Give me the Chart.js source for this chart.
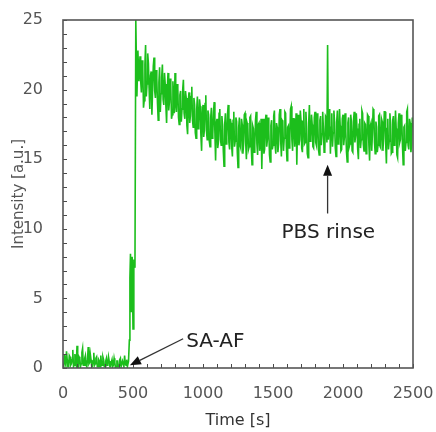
<!DOCTYPE html>
<html>
<head>
<meta charset="utf-8">
<script src="https://cdn.jsdelivr.net/npm/chart.js@4.4.1/dist/chart.umd.min.js"></script>
<style>
  html, body { margin: 0; padding: 0; background: #fff; }
  #chart { display: block; }
</style>
</head>
<body>
<canvas id="chart" width="436" height="432"></canvas>
<script>
const times = [
  0, 5, 10, 15, 20, 25, 30, 35, 40, 45,
  50, 55, 60, 65, 70, 75, 80, 85, 90, 95,
  100, 105, 110, 115, 120, 125, 130, 135, 140, 145,
  150, 155, 160, 165, 170, 175, 180, 185, 190, 195,
  200, 205, 210, 215, 220, 225, 230, 235, 240, 245,
  250, 255, 260, 265, 270, 275, 280, 285, 290, 295,
  300, 305, 310, 315, 320, 325, 330, 335, 340, 345,
  350, 355, 360, 365, 370, 375, 380, 385, 390, 395,
  400, 405, 410, 415, 420, 425, 430, 435, 440, 445,
  450, 455, 460,
  468, 474, 478, 482, 488, 494, 500, 506, 514, 520, 528, 535, 542,
  550, 555, 560, 565, 570, 575, 580, 585, 590, 595,
  600, 605, 610, 615, 620, 625, 630, 635, 640, 645,
  650, 655, 660, 665, 670, 675, 680, 685, 690, 695,
  700, 705, 710, 715, 720, 725, 730, 735, 740, 745,
  750, 755, 760, 765, 770, 775, 780, 785, 790, 795,
  800, 805, 810, 815, 820, 825, 830, 835, 840, 845,
  850, 855, 860, 865, 870, 875, 880, 885, 890, 895,
  900, 905, 910, 915, 920, 925, 930, 935, 940, 945,
  950, 955, 960, 965, 970, 975, 980, 985, 990, 995,
  1000, 1005, 1010, 1015, 1020, 1025, 1030, 1035, 1040, 1045,
  1050, 1055, 1060, 1065, 1070, 1075, 1080, 1085, 1090, 1095,
  1100, 1105, 1110, 1115, 1120, 1125, 1130, 1135, 1140, 1145,
  1150, 1155, 1160, 1165, 1170, 1175, 1180, 1185, 1190, 1195,
  1200, 1205, 1210, 1215, 1220, 1225, 1230, 1235, 1240, 1245,
  1250, 1255, 1260, 1265, 1270, 1275, 1280, 1285, 1290, 1295,
  1300, 1305, 1310, 1315, 1320, 1325, 1330, 1335, 1340, 1345,
  1350, 1355, 1360, 1365, 1370, 1375, 1380, 1385, 1390, 1395,
  1400, 1405, 1410, 1415, 1420, 1425, 1430, 1435, 1440, 1445,
  1450, 1455, 1460, 1465, 1470, 1475, 1480, 1485, 1490, 1495,
  1500, 1505, 1510, 1515, 1520, 1525, 1530, 1535, 1540, 1545,
  1550, 1555, 1560, 1565, 1570, 1575, 1580, 1585, 1590, 1595,
  1600, 1605, 1610, 1615, 1620, 1625, 1630, 1635, 1640, 1645,
  1650, 1655, 1660, 1665, 1670, 1675, 1680, 1685, 1690, 1695,
  1700, 1705, 1710, 1715, 1720, 1725, 1730, 1735, 1740, 1745,
  1750, 1755, 1760, 1765, 1770, 1775, 1780, 1785, 1790, 1795,
  1800, 1805, 1810, 1815, 1820, 1825, 1830, 1835, 1840, 1845,
  1850, 1855, 1860, 1865, 1870, 1875, 1880, 1885, 1890, 1895,
  1900, 1905, 1910, 1915, 1920, 1925, 1930, 1935, 1940, 1945,
  1950, 1955, 1960, 1965, 1970, 1975, 1980, 1985, 1990, 1995,
  2000, 2005, 2010, 2015, 2020, 2025, 2030, 2035, 2040, 2045,
  2050, 2055, 2060, 2065, 2070, 2075, 2080, 2085, 2090, 2095,
  2100, 2105, 2110, 2115, 2120, 2125, 2130, 2135, 2140, 2145,
  2150, 2155, 2160, 2165, 2170, 2175, 2180, 2185, 2190, 2195,
  2200, 2205, 2210, 2215, 2220, 2225, 2230, 2235, 2240, 2245,
  2250, 2255, 2260, 2265, 2270, 2275, 2280, 2285, 2290, 2295,
  2300, 2305, 2310, 2315, 2320, 2325, 2330, 2335, 2340, 2345,
  2350, 2355, 2360, 2365, 2370, 2375, 2380, 2385, 2390, 2395,
  2400, 2405, 2410, 2415, 2420, 2425, 2430, 2435, 2440, 2445,
  2450, 2455, 2460, 2465, 2470, 2475, 2480, 2485, 2490, 2495,
  2500
];

const intensity = [
  0.3, 0.0, 1.0, 0.4, 0.2, 1.2, 0.6, 0.1, 0.1, 0.9,
  0.8, 0.2, 0.3, 0.6, 1.3, 0.1, 0.2, 1.0, 0.5, 0.2,
  1.6, 0.3, 0.1, 0.8, 0.7, 0.1, 0.3, 1.1, 1.4, 0.2,
  0.2, 0.7, 0.9, 0.2, 0.1, 0.6, 1.5, 0.3, 0.4, 1.0,
  0.6, 0.1, 0.1, 0.5, 1.1, 0.2, 0.3, 0.7, 0.8, 0.1,
  0.1, 0.6, 0.5, 0.1, 0.9, 0.3, 0.2, 0.8, 0.6, 0.1,
  0.1, 0.5, 0.7, 0.2, 0.3, 0.8, 0.5, 0.1, 0.1, 0.4,
  0.6, 0.1, 0.2, 0.7, 0.4, 0.0, 0.1, 0.5, 0.5, 0.1,
  0.2, 0.6, 0.7, 0.1, 0.1, 0.5, 0.3, 0.1, 0.9, 0.3,
  0.2, 0.6, 0.1,
  0.5, 2.0, 6.5, 8.2, 4.0, 8.0, 2.8, 7.8, 7.2, 25.0, 19.5, 22.8, 20.6,
  22.4, 20.6, 19.8, 22.1, 21.5, 18.7, 19.2, 21.8, 23.2, 19.5,
  20.4, 22.6, 21.9, 20.1, 18.6, 21.0, 21.3, 18.2, 20.0, 21.7,
  22.3, 19.9, 19.4, 21.4, 20.8, 19.0, 17.8, 20.5, 21.6, 18.4,
  19.7, 20.9, 21.8, 19.3, 18.9, 21.2, 20.4, 18.8, 17.6, 20.0,
  21.2, 18.5, 19.1, 20.8, 20.3, 17.9, 18.2, 20.6, 19.6, 18.3,
  21.2, 19.0, 18.4, 20.4, 20.1, 18.0, 17.5, 19.6, 19.9, 17.7,
  18.6, 20.0, 20.7, 18.3, 17.9, 19.9, 19.4, 17.4, 16.8, 19.2,
  19.8, 17.6, 18.1, 19.5, 20.2, 17.8, 17.3, 19.4, 18.9, 16.9,
  16.5, 18.6, 19.5, 17.2, 17.6, 19.3, 18.8, 16.7, 15.6, 18.1,
  18.9, 16.6, 17.1, 19.0, 19.6, 17.0, 16.4, 18.5, 18.2, 16.3,
  15.9, 18.0, 18.7, 16.5, 16.8, 18.4, 19.1, 16.9, 14.9, 17.6,
  17.9, 15.8, 16.2, 18.3, 18.6, 16.4, 16.0, 18.1, 17.4, 15.6,
  14.5, 17.5, 18.3, 16.1, 16.6, 18.2, 18.9, 16.2, 15.7, 17.9,
  17.6, 15.9, 15.2, 17.8, 18.4, 15.9, 16.3, 18.0, 17.7, 15.5,
  14.4, 17.3, 18.0, 16.0, 15.8, 17.9, 17.5, 15.4, 16.1, 18.2,
  18.3, 16.2, 15.0, 17.6, 17.4, 15.7, 15.9, 18.0, 18.1, 15.8,
  14.6, 17.4, 17.2, 15.5, 16.0, 17.8, 18.4, 16.1, 15.3, 17.5,
  17.6, 15.6, 16.2, 17.9, 14.3, 16.8, 17.9, 15.4, 15.7, 17.7,
  18.2, 15.9, 16.4, 18.0, 17.1, 15.3, 14.8, 17.4, 17.8, 15.7,
  16.0, 18.1, 18.5, 16.0, 15.4, 17.6, 17.3, 15.5, 16.1, 18.2,
  18.6, 16.3, 15.2, 17.8, 17.7, 15.6, 16.5, 18.4, 18.3, 16.0,
  14.9, 17.3, 17.4, 15.8, 16.3, 18.6, 18.8, 16.4, 15.6, 17.9,
  17.9, 15.9, 16.7, 18.3, 14.6, 17.2, 18.2, 16.0, 16.4, 18.5,
  17.8, 15.8, 15.5, 17.7, 18.6, 16.1, 16.2, 18.4, 17.3, 15.4,
  15.1, 17.6, 18.9, 16.3, 16.6, 18.2, 17.5, 15.9, 15.8, 18.0,
  18.4, 16.2, 16.0, 18.3, 17.7, 15.7, 15.3, 17.8, 18.1, 16.0,
  16.8, 18.4, 17.2, 15.5, 15.6, 18.1, 18.0, 16.2, 23.2, 16.4,
  17.5, 18.6, 15.4, 17.3, 18.3, 15.9, 16.9, 18.5, 17.6, 15.8,
  15.2, 17.7, 18.5, 16.1, 16.3, 18.6, 17.4, 15.6, 15.7, 17.9,
  18.2, 16.0, 16.6, 18.3, 17.0, 15.5, 14.8, 17.6, 18.0, 15.9,
  16.1, 18.2, 17.7, 15.6, 15.5, 17.8, 18.4, 16.2, 16.7, 18.3,
  17.2, 15.7, 15.0, 17.5, 17.9, 15.8, 16.4, 18.5, 18.3, 16.1,
  15.6, 17.6, 17.5, 15.4, 16.2, 18.2, 18.1, 16.0, 14.9, 17.4,
  17.6, 15.6, 16.8, 18.6, 18.5, 16.2, 15.4, 17.7, 17.3, 15.5,
  16.0, 18.1, 18.2, 15.9, 15.8, 17.9, 17.7, 15.6, 16.5, 18.4,
  18.4, 16.1, 14.7, 17.2, 17.9, 15.7, 16.3, 18.3, 17.5, 15.4,
  15.5, 17.8, 18.1, 16.0, 16.6, 18.5, 17.2, 15.3, 15.1, 17.6,
  18.3, 16.2, 16.4, 18.2, 17.8, 15.9, 14.6, 17.3, 17.4, 15.6,
  16.2, 18.4, 18.6, 16.0, 15.7, 17.9, 17.6, 15.5, 16.0, 18.0,
  17.3
];

// Labelled tick values on each axis
const xLabelTicks = [0, 500, 1000, 1500, 2000, 2500];
const yLabelTicks = [0, 5, 10, 15, 20, 25];

// Annotations: text plus arrow tail/tip in data coordinates
const annotations = [
  { text: 'SA-AF', textAt: [880, 1.85], align: 'left', tail: [858, 2.1], tip: [478, 0.2] },
  { text: 'PBS rinse', textAt: [1895, 9.7], align: 'center', tail: [1890, 11.1], tip: [1890, 14.6] },
];

const FONT = "'DejaVu Sans', sans-serif";
const LINE_GREEN = 'rgb(28, 190, 28)';

// Frame box plus small inward tick marks along the left and bottom edges
const framePlugin = {
  id: 'frame',
  afterDatasetsDraw(chart) {
    const { ctx, chartArea: a, scales } = chart;
    ctx.save();
    ctx.strokeStyle = '#4a4a4a';
    ctx.lineWidth = 1;
    ctx.beginPath();
    scales.y.ticks.forEach((t) => {
      const py = Math.round(scales.y.getPixelForValue(t.value)) + 0.5;
      ctx.moveTo(a.left, py);
      ctx.lineTo(a.left + 4, py);
    });
    scales.x.ticks.forEach((t) => {
      const px = Math.round(scales.x.getPixelForValue(t.value)) + 0.5;
      ctx.moveTo(px, a.bottom);
      ctx.lineTo(px, a.bottom - 4);
    });
    ctx.stroke();
    ctx.lineWidth = 1.6;
    ctx.strokeStyle = '#555';
    ctx.strokeRect(a.left, a.top, a.right - a.left, a.bottom - a.top);
    ctx.restore();
  },
};

// Arrows and labels for the two events
const annotationPlugin = {
  id: 'notes',
  afterDraw(chart) {
    const { ctx, scales } = chart;
    const x = scales.x, y = scales.y;
    ctx.save();
    annotations.forEach((n) => {
      const tx = x.getPixelForValue(n.tail[0]), ty = y.getPixelForValue(n.tail[1]);
      const hx = x.getPixelForValue(n.tip[0]), hy = y.getPixelForValue(n.tip[1]);
      const ang = Math.atan2(hy - ty, hx - tx);
      const headLen = 11, headW = 4.5;
      const bx = hx - headLen * Math.cos(ang), by = hy - headLen * Math.sin(ang);
      ctx.strokeStyle = '#333';
      ctx.fillStyle = '#111';
      ctx.lineWidth = 1.3;
      ctx.beginPath();
      ctx.moveTo(tx, ty);
      ctx.lineTo(bx, by);
      ctx.stroke();
      ctx.beginPath();
      ctx.moveTo(hx, hy);
      ctx.lineTo(bx + headW * Math.sin(ang), by - headW * Math.cos(ang));
      ctx.lineTo(bx - headW * Math.sin(ang), by + headW * Math.cos(ang));
      ctx.closePath();
      ctx.fill();

      ctx.font = '20px ' + FONT;
      ctx.fillStyle = '#222';
      ctx.textAlign = n.align;
      ctx.textBaseline = 'middle';
      ctx.fillText(n.text, x.getPixelForValue(n.textAt[0]), y.getPixelForValue(n.textAt[1]));
    });
    ctx.restore();
  },
};

const points = times.map((t, i) => ({ x: t, y: intensity[i] }));

new Chart(document.getElementById('chart'), {
  type: 'line',
  data: {
    datasets: [{
      data: points,
      borderColor: LINE_GREEN,
      borderWidth: 1.6,
      pointRadius: 0,
      tension: 0,
      fill: false,
    }],
  },
  options: {
    responsive: false,
    animation: false,
    layout: { padding: { top: 20, right: 23, left: 0, bottom: 0 } },
    plugins: { legend: { display: false }, tooltip: { enabled: false } },
    scales: {
      x: {
        type: 'linear',
        min: 0,
        max: 2500,
        grid: { display: false },
        border: { display: false },
        afterFit: (s) => {
          s.height = 64;
          s.paddingLeft = 0;
          s.paddingRight = 0;
        },
        ticks: {
          stepSize: 100,
          autoSkip: false,
          maxRotation: 0,
          padding: 8,
          color: '#555',
          font: { family: FONT, size: 16 },
          callback: (v) => (xLabelTicks.includes(v) ? String(v) : ''),
        },
        title: {
          display: true,
          text: 'Time [s]',
          color: '#333',
          font: { family: FONT, size: 16 },
          padding: { top: 0, bottom: 2 },
        },
      },
      y: {
        type: 'linear',
        min: 0,
        max: 25,
        grid: { display: false },
        border: { display: false },
        afterFit: (s) => {
          s.width = 63;
          s.paddingTop = 0;
          s.paddingBottom = 0;
        },
        ticks: {
          stepSize: 1,
          autoSkip: false,
          padding: 12,
          color: '#555',
          font: { family: FONT, size: 16 },
          callback: (v) => (yLabelTicks.includes(v) ? String(v) : ''),
        },
        title: {
          display: true,
          text: 'Intensity [a.u.]',
          color: '#555',
          font: { family: FONT, size: 15 },
          padding: { top: 10, bottom: 0 },
        },
      },
    },
  },
  plugins: [framePlugin, annotationPlugin],
});
</script>
</body>
</html>
